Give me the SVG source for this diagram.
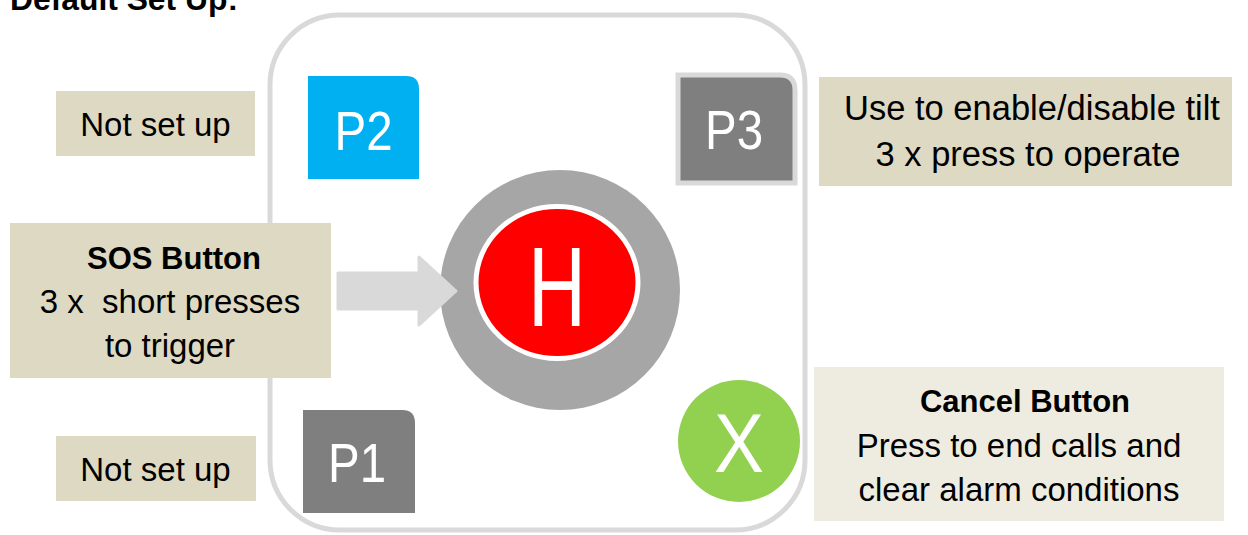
<svg xmlns="http://www.w3.org/2000/svg" width="1248" height="535" viewBox="0 0 1248 535">
<style>
.t{font-family:"Liberation Sans",Arial,sans-serif;fill:#000;font-size:33px;text-anchor:middle}
.b{font-weight:bold;font-size:31px}
.w{font-family:"Liberation Sans",Arial,sans-serif;fill:#fff;text-anchor:middle}
.note{fill:#ddd9c3}
.pg{fill:#7f7f7f}
</style>
<rect width="1248" height="535" fill="#fff"/>
<text x="10" y="10" class="t b" style="text-anchor:start" textLength="228" lengthAdjust="spacingAndGlyphs">Default Set Up:</text>
<g id="device">
<rect x="270" y="15" width="535" height="515" rx="70" ry="70" fill="none" stroke="#d9d9d9" stroke-width="5"/>
</g>
<g id="note-p2">
<rect x="56" y="91" width="199" height="65" class="note"/>
<text x="155.5" y="136" class="t">Not set up</text>
</g>
<g id="note-p1">
<rect x="56" y="436" width="200" height="65" class="note"/>
<text x="155.5" y="481" class="t">Not set up</text>
</g>
<g id="p2">
<path d="M308,76 H406 Q419,76 419,89 V179 H308 Z" fill="#00b0f0"/>
<text x="363.5" y="150" class="w" font-size="56" textLength="58" lengthAdjust="spacingAndGlyphs">P2</text>
</g>
<g id="p3">
<path d="M678,75 H780 Q795,75 795,90 V183 H678 Z" class="pg" stroke="#d9d9d9" stroke-width="5"/>
<text x="734" y="149" class="w" font-size="56" textLength="58" lengthAdjust="spacingAndGlyphs">P3</text>
</g>
<g id="p1">
<path d="M303,410 H402 Q415,410 415,423 V513 H303 Z" class="pg"/>
<text x="357" y="482" class="w" font-size="56" textLength="58" lengthAdjust="spacingAndGlyphs">P1</text>
</g>
<g id="h-button">
<circle cx="560" cy="290" r="120" fill="#a6a6a6"/>
<ellipse cx="557" cy="282.5" rx="81" ry="76" fill="#ff0000" stroke="#fff" stroke-width="5"/>
<text x="557" y="326" class="w" font-size="114" textLength="58" lengthAdjust="spacingAndGlyphs">H</text>
</g>
<g id="connectors">
<path d="M338,273 L419,273 L419,257 L456,291 L419,325 L419,309 L338,309 Z" fill="#d9d9d9" stroke="#d9d9d9" stroke-width="3" stroke-linejoin="round"/>
</g>
<g id="x-button">
<circle cx="739" cy="441" r="61" fill="#92d050"/>
<text x="739" y="472" class="w" font-size="84" textLength="50" lengthAdjust="spacingAndGlyphs">X</text>
</g>
<g id="sos-note">
<rect x="10" y="223" width="321" height="155" class="note"/>
<text x="174" y="269" class="t b">SOS Button</text>
<text x="170" y="313" class="t" style="white-space:pre" xml:space="preserve">3 x  short presses</text>
<text x="170" y="357" class="t">to trigger</text>
</g>
<g id="tilt-note">
<rect x="819" y="77" width="413" height="109" class="note"/>
<text x="1032" y="120" class="t" font-size="34.5" style="font-size:34.5px">Use to enable/disable tilt</text>
<text x="1028" y="166" class="t" style="font-size:34.5px">3 x press to operate</text>
</g>
<g id="cancel-note">
<rect x="814" y="367" width="410" height="154" fill="#eeece1"/>
<text x="1025" y="412" class="t b">Cancel Button</text>
<text x="1019" y="457" class="t">Press to end calls and</text>
<text x="1019" y="501" class="t">clear alarm conditions</text>
</g>
</svg>
